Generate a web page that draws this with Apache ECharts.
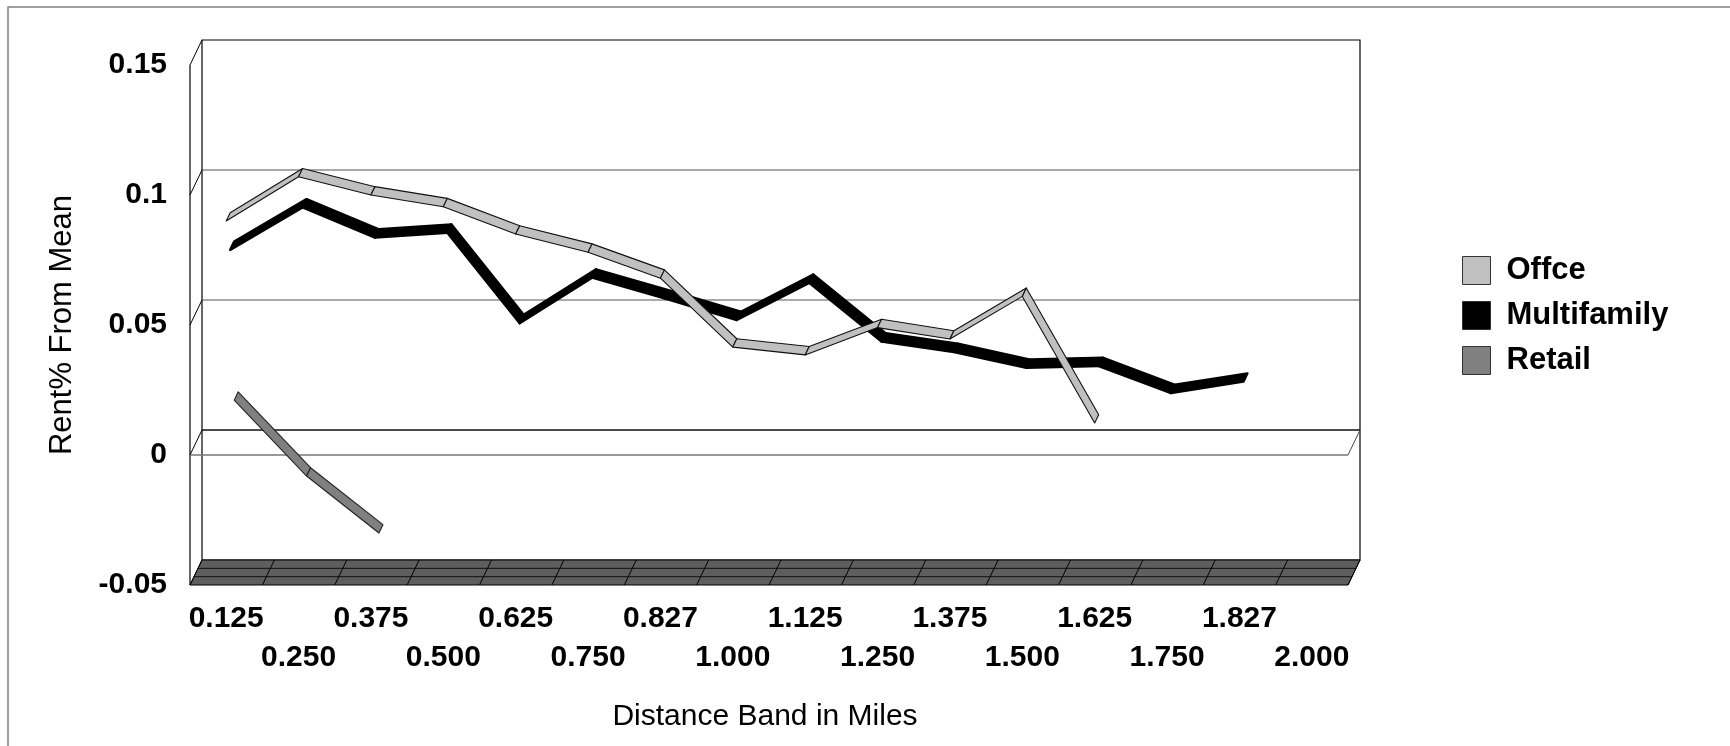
<!DOCTYPE html>
<html>
<head>
<meta charset="utf-8">
<title>Rent% From Mean by Distance Band</title>
<script src="https://cdn.jsdelivr.net/npm/echarts@6/dist/echarts.min.js"></script>
<style>
  html, body { margin: 0; padding: 0; background: #fff; }
  #chart { width: 1730px; height: 746px; }
</style>
</head>
<body>
<div id="chart"></div>
<script>
// Distance bands (miles) along the category axis
const categories = ['0.125', '0.250', '0.375', '0.500', '0.625', '0.750', '0.827', '1.000',
                    '1.125', '1.250', '1.375', '1.500', '1.625', '1.750', '1.827', '2.000'];

// Rent premium relative to the mean, per distance band
const officeValues = [0.090, 0.107, 0.100, 0.0955, 0.085, 0.078, 0.068, 0.0415,
                      0.0385, 0.049, 0.0446, 0.061, 0.0123, null, null, null];
const multifamilyValues = [0.0757, 0.092, 0.0804, 0.0823, 0.0475, 0.065, 0.057, 0.0487,
                           0.063, 0.0404, 0.0364, 0.0303, 0.031, 0.0206, 0.025, null];
const retailValues = [0.0147, -0.0145, -0.0364, null, null, null, null, null,
                      null, null, null, null, null, null, null, null];

// Value axis ticks
const yTicks = [-0.05, 0, 0.05, 0.1, 0.15];

// Oblique projection of the depth axis: full depth shifts right and up
const DEPTH = [12, -25];
const FONT = 'Arial, "Liberation Sans", Helvetica, sans-serif';

// One ribbon per series, each occupying a third of the depth
const seriesDefs = [
  { name: 'Offce',       values: officeValues,      color: '#c0c0c0', edge: '#111', width: 1.1, slot: [0, 1 / 3], z: 6 },
  { name: 'Multifamily', values: multifamilyValues, color: '#000000', edge: '#000', width: 2.4, slot: [1 / 3, 2 / 3], z: 5 },
  { name: 'Retail',      values: retailValues,      color: '#808080', edge: '#222', width: 1.1, slot: [2 / 3, 1], z: 4 }
];

// Each datum is a segment: [category index, value, next value]
function segments(values) {
  const out = [];
  for (let i = 0; i < values.length - 1; i++) {
    if (values[i] != null && values[i + 1] != null) out.push([i, values[i], values[i + 1]]);
  }
  return out;
}

function ribbonRenderer(def) {
  return function (params, api) {
    const i = api.value(0);
    const p0 = api.coord([i, api.value(1)]);
    const p1 = api.coord([i + 1, api.value(2)]);
    const [d0, d1] = def.slot;
    const at = (p, d) => [p[0] + DEPTH[0] * d, p[1] + DEPTH[1] * d];
    return {
      type: 'polygon',
      shape: { points: [at(p0, d0), at(p1, d0), at(p1, d1), at(p0, d1)] },
      style: { fill: def.color, stroke: def.edge, lineWidth: def.width, lineJoin: 'round' }
    };
  };
}

// Walls, floor, gridlines and the zero plane of the 3-D box
function renderFrame(params, api) {
  const cs = params.coordSys;
  const x0 = cs.x, x1 = cs.x + cs.width;
  const yTop = cs.y, yBot = cs.y + cs.height;
  const [dx, dy] = DEPTH;
  const band = cs.width / categories.length;
  const yOf = v => api.coord([0, v])[1];
  const kids = [];
  const line = (a, b, stroke, w) => kids.push({
    type: 'line', shape: { x1: a[0], y1: a[1], x2: b[0], y2: b[1] },
    style: { stroke: stroke, lineWidth: w || 1 }
  });

  // back wall
  kids.push({ type: 'rect', shape: { x: x0 + dx, y: yTop + dy, width: cs.width, height: cs.height },
              style: { fill: '#fff', stroke: '#000', lineWidth: 1.2 } });
  // side wall edges
  line([x0, yTop], [x0, yBot], '#000', 1.2);
  line([x0, yTop], [x0 + dx, yTop + dy], '#000', 1);

  // gridlines on back wall with their side-wall returns
  yTicks.forEach(v => {
    if (v === yTicks[0] || v === yTicks[yTicks.length - 1] || v === 0) return;
    const y = yOf(v);
    line([x0 + dx, y + dy], [x1 + dx, y + dy], '#555', 1.2);
    line([x0, y], [x0 + dx, y + dy], '#000', 1);
  });

  // zero plane outline
  const y0 = yOf(0);
  line([x0 + dx, y0 + dy], [x1 + dx, y0 + dy], '#111', 1.3);
  line([x0, y0], [x1, y0], '#777', 1.3);
  line([x0, y0], [x0 + dx, y0 + dy], '#000', 1);
  line([x1, y0], [x1 + dx, y0 + dy], '#444', 1);

  // floor
  kids.push({ type: 'polygon',
              shape: { points: [[x0, yBot], [x1, yBot], [x1 + dx, yBot + dy], [x0 + dx, yBot + dy]] },
              style: { fill: '#5e5e5e', stroke: '#000', lineWidth: 1 } });
  [1 / 3, 2 / 3].forEach(t => line([x0 + dx * t, yBot + dy * t], [x1 + dx * t, yBot + dy * t], '#111', 1));
  for (let k = 0; k <= categories.length; k++) {
    const x = x0 + k * band;
    line([x, yBot], [x + dx, yBot + dy], '#000', 1);
  }
  return { type: 'group', children: kids };
}

const chart = echarts.init(document.getElementById('chart'), null, { renderer: 'canvas' });

const series = [{
  name: 'frame', type: 'custom', silent: true, z: 1,
  data: [[0, 0]], renderItem: renderFrame
}];
seriesDefs.forEach(def => series.push({
  name: def.name, type: 'custom', z: def.z,
  itemStyle: { color: def.color },
  data: segments(def.values),
  renderItem: ribbonRenderer(def)
}));

chart.setOption({
  animation: false,
  backgroundColor: '#fff',
  textStyle: { fontFamily: FONT },
  graphic: [{
    type: 'rect', silent: true,
    shape: { x: 8, y: 7, width: 1740, height: 760 },
    style: { fill: null, stroke: '#808080', lineWidth: 1.5 }
  }],
  grid: { left: 190, top: 65, width: 1158, height: 520, containLabel: false },
  legend: {
    data: seriesDefs.map(d => d.name),
    orient: 'vertical', left: 1457, top: 250,
    icon: 'rect', itemWidth: 28, itemHeight: 28, itemGap: 14,
    itemStyle: { borderColor: '#333', borderWidth: 1 },
    textStyle: { fontFamily: FONT, fontSize: 31, fontWeight: 'bold', color: '#000',
                 padding: [0, 0, 0, 11], lineHeight: 28 }
  },
  xAxis: {
    type: 'category', data: categories, boundaryGap: true,
    axisLine: { show: false }, axisTick: { show: false }, splitLine: { show: false },
    axisLabel: {
      interval: 0, margin: 14, lineHeight: 39,
      fontFamily: FONT, fontSize: 30, fontWeight: 'bold', color: '#000',
      formatter: (val, idx) => (idx % 2 ? '\n' + val : val)
    },
    name: 'Distance Band in Miles', nameLocation: 'middle', nameGap: 117,
    nameTextStyle: { fontFamily: FONT, fontSize: 30, color: '#000', padding: [0, 8, 0, 0] }
  },
  yAxis: {
    type: 'value', min: yTicks[0], max: yTicks[yTicks.length - 1], interval: 0.05,
    axisLine: { show: false }, axisTick: { show: false }, splitLine: { show: false },
    axisLabel: {
      margin: 23, fontFamily: FONT, fontSize: 30, fontWeight: 'bold', color: '#000',
      formatter: v => String(parseFloat(v.toFixed(2)))
    },
    name: 'Rent% From Mean', nameLocation: 'middle', nameGap: 112,
    nameTextStyle: { fontFamily: FONT, fontSize: 31, color: '#000' }
  },
  series: series
});
</script>
</body>
</html>
